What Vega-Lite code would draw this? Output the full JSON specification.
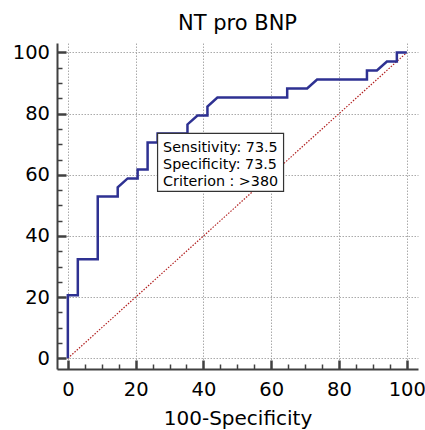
{
  "$schema": "https://vega.github.io/schema/vega-lite/v6.json",
  "autosize": {"type": "none"},
  "padding": {"left": 57, "top": 43, "right": 7, "bottom": 61},
  "width": 361,
  "height": 326,
  "background": "white",
  "config": {
    "view": {"stroke": null},
    "font": "DejaVu Sans"
  },
  "title": {
    "text": "NT pro BNP",
    "font": "DejaVu Sans",
    "fontSize": 21,
    "fontWeight": "normal",
    "color": "#000000",
    "anchor": "middle",
    "frame": "group",
    "baseline": "alphabetic",
    "offset": 12,
    "dy": 21
  },
  "datasets": {
    "roc": [
      {"i": 0, "fpr": 0, "tpr": 0},
      {"i": 1, "fpr": 0, "tpr": 20.59},
      {"i": 2, "fpr": 2.94, "tpr": 20.59},
      {"i": 3, "fpr": 2.94, "tpr": 32.35},
      {"i": 4, "fpr": 8.82, "tpr": 32.35},
      {"i": 5, "fpr": 8.82, "tpr": 52.94},
      {"i": 6, "fpr": 14.71, "tpr": 52.94},
      {"i": 7, "fpr": 14.71, "tpr": 55.88},
      {"i": 8, "fpr": 17.65, "tpr": 58.82},
      {"i": 9, "fpr": 20.59, "tpr": 58.82},
      {"i": 10, "fpr": 20.59, "tpr": 61.76},
      {"i": 11, "fpr": 23.53, "tpr": 61.76},
      {"i": 12, "fpr": 23.53, "tpr": 70.59},
      {"i": 13, "fpr": 26.47, "tpr": 70.59},
      {"i": 14, "fpr": 26.47, "tpr": 73.53},
      {"i": 15, "fpr": 35.29, "tpr": 73.53},
      {"i": 16, "fpr": 35.29, "tpr": 76.47},
      {"i": 17, "fpr": 38.24, "tpr": 79.41},
      {"i": 18, "fpr": 41.18, "tpr": 79.41},
      {"i": 19, "fpr": 41.18, "tpr": 82.35},
      {"i": 20, "fpr": 44.12, "tpr": 85.29},
      {"i": 21, "fpr": 64.71, "tpr": 85.29},
      {"i": 22, "fpr": 64.71, "tpr": 88.24},
      {"i": 23, "fpr": 70.59, "tpr": 88.24},
      {"i": 24, "fpr": 73.53, "tpr": 91.18},
      {"i": 25, "fpr": 88.24, "tpr": 91.18},
      {"i": 26, "fpr": 88.24, "tpr": 94.12},
      {"i": 27, "fpr": 91.18, "tpr": 94.12},
      {"i": 28, "fpr": 94.12, "tpr": 97.06},
      {"i": 29, "fpr": 97.06, "tpr": 97.06},
      {"i": 30, "fpr": 97.06, "tpr": 100},
      {"i": 31, "fpr": 100, "tpr": 100}
    ],
    "diag": [
      {"i": 0, "fpr": 0, "tpr": 0},
      {"i": 1, "fpr": 100, "tpr": 100}
    ],
    "crit": [
      {"fpr": 26.47, "tpr": 73.53, "label": "Sensitivity: 73.5\nSpecificity: 73.5\nCriterion : >380"}
    ]
  },
  "encoding": {
    "x": {
      "field": "fpr",
      "type": "quantitative",
      "scale": {"domain": [-3.2, 103.3], "nice": false, "zero": false},
      "axis": {
        "title": "100-Specificity",
        "titleFont": "DejaVu Sans",
        "titleFontSize": 20,
        "titleFontWeight": "normal",
        "titleColor": "#000000",
        "titlePadding": 6,
        "values": [0, 5, 10, 15, 20, 25, 30, 35, 40, 45, 50, 55, 60, 65, 70, 75, 80, 85, 90, 95, 100],
        "labelExpr": "datum.value % 20 === 0 ? datum.label : ''",
        "labelFont": "DejaVu Sans",
        "labelFontSize": 19.5,
        "labelColor": "#000000",
        "labelOverlap": false,
        "labelFlush": false,
        "labelPadding": 20,
        "domainColor": "#404040",
        "domainWidth": 2,
        "tickColor": "#404040",
        "tickSize": {"condition": {"test": "datum.value % 20 === 0", "value": -9}, "value": -5},
        "tickWidth": {"condition": {"test": "datum.value % 20 === 0", "value": 2.5}, "value": 1.5},
        "grid": true,
        "gridColor": "#aaaaaa",
        "gridDash": [1.5, 1.5],
        "gridWidth": 1,
        "gridOpacity": {"condition": {"test": "datum.value % 20 === 0", "value": 1}, "value": 0}
      }
    },
    "y": {
      "field": "tpr",
      "type": "quantitative",
      "scale": {"domain": [-3.5, 103.1], "nice": false, "zero": false},
      "axis": {
        "title": null,
        "values": [0, 5, 10, 15, 20, 25, 30, 35, 40, 45, 50, 55, 60, 65, 70, 75, 80, 85, 90, 95, 100],
        "labelExpr": "datum.value % 20 === 0 ? datum.label : ''",
        "labelFont": "DejaVu Sans",
        "labelFontSize": 19.5,
        "labelColor": "#000000",
        "labelOverlap": false,
        "labelFlush": false,
        "labelPadding": 16.5,
        "domainColor": "#404040",
        "domainWidth": 2,
        "tickColor": "#404040",
        "tickSize": {"condition": {"test": "datum.value % 20 === 0", "value": -9}, "value": -5},
        "tickWidth": {"condition": {"test": "datum.value % 20 === 0", "value": 2.5}, "value": 1.5},
        "grid": true,
        "gridColor": "#aaaaaa",
        "gridDash": [1.5, 1.5],
        "gridWidth": 1,
        "gridOpacity": {"condition": {"test": "datum.value % 20 === 0", "value": 1}, "value": 0}
      }
    }
  },
  "layer": [
    {
      "data": {"name": "diag"},
      "mark": {"type": "line", "color": "#b22222", "strokeWidth": 1.2, "strokeDash": [1.5, 1.5]},
      "encoding": {"order": {"field": "i", "type": "quantitative"}}
    },
    {
      "data": {"name": "roc"},
      "mark": {"type": "line", "color": "#2e3192", "strokeWidth": 2.5, "strokeJoin": "miter"},
      "encoding": {"order": {"field": "i", "type": "quantitative"}}
    },
    {
      "data": {"name": "crit"},
      "mark": {"type": "rect", "fill": "white", "stroke": "#333333", "strokeWidth": 1.2, "x2Offset": 126, "y2Offset": 58},
      "encoding": {
        "x2": {"field": "fpr"},
        "y2": {"field": "tpr"}
      }
    },
    {
      "data": {"name": "crit"},
      "mark": {"type": "text", "align": "left", "baseline": "alphabetic", "dx": 5.5, "dy": 18.6, "fontSize": 14.3, "lineHeight": 17, "lineBreak": "\n", "font": "DejaVu Sans", "color": "#000000"},
      "encoding": {"text": {"field": "label"}}
    }
  ]
}
